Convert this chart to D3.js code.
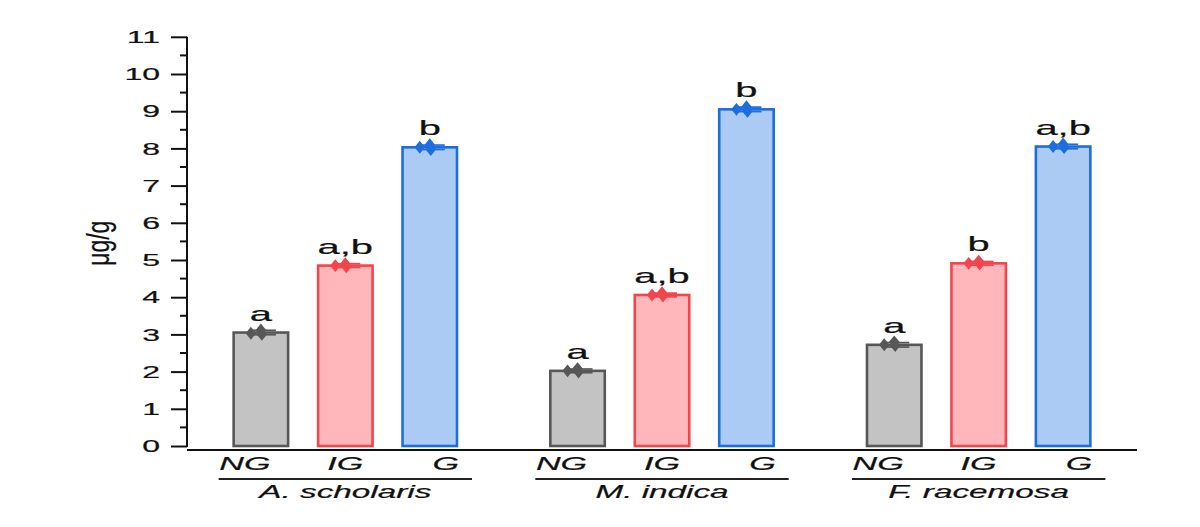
<!DOCTYPE html>
<html>
<head>
<meta charset="utf-8">
<script src="https://cdn.jsdelivr.net/npm/d3@7"></script>
<style>
  html, body { margin: 0; padding: 0; background: #ffffff; }
  svg { display: block; font-family: "Liberation Sans", Arial, sans-serif; }
  svg text { stroke: #111; stroke-width: 0.2px; }
</style>
</head>
<body>
<svg id="chart" width="1200" height="527"></svg>
<script>
// ---- data ----
const species = ["A. scholaris", "M. indica", "F. racemosa"];
const treatments = ["NG", "IG", "G"];
const ngValues = [3.05, 2.02, 2.72];
const igValues = [4.85, 4.06, 4.91];
const gValues  = [8.03, 9.05, 8.05];
const ngErr = [0.06, 0.05, 0.06];
const igErr = [0.05, 0.05, 0.05];
const gErr  = [0.06, 0.06, 0.06];
const ngReplicates = [[3.03, 3.12, 3.00], [2.02, 2.08, 1.99], [2.72, 2.80, 2.70]];
const igReplicates = [[4.85, 4.90, 4.82], [4.06, 4.12, 4.03], [4.91, 4.97, 4.89]];
const gReplicates  = [[8.03, 8.10, 7.97], [9.05, 9.12, 9.00], [8.05, 8.12, 8.02]];
const ngLetters = ["a", "a", "a"];
const igLetters = ["a,b", "a,b", "b"];
const gLetters  = ["b", "b", "a,b"];
const yTicks = d3.range(0, 12);
const yMinorTicks = d3.range(0.5, 11, 1);
const yLabel = "μg/g";

// ---- styles ----
const fills   = { NG: "#c3c3c3", IG: "#ffb7bb", G: "#abcbf4" };
const strokes = { NG: "#575757", IG: "#f2454c", G: "#1c6ee0" };
const STRETCH = 1.9;      // text horizontal stretch seen in the reference
const GROUP_STEP = 3.75;  // bar slots per group (3 bars + gap)

const valuesBy = { NG: ngValues, IG: igValues, G: gValues };
const errBy = { NG: ngErr, IG: igErr, G: gErr };
const repBy = { NG: ngReplicates, IG: igReplicates, G: gReplicates };
const letterBy = { NG: ngLetters, IG: igLetters, G: gLetters };

const data = [];
species.forEach((sp, gi) => {
  treatments.forEach((t, ti) => {
    data.push({
      species: sp, treatment: t, gi, ti,
      pos: gi * GROUP_STEP + ti,
      value: valuesBy[t][gi], err: errBy[t][gi],
      reps: repBy[t][gi], letter: letterBy[t][gi]
    });
  });
});

const svg = d3.select("#chart");
const x = d3.scaleLinear().domain([-0.875, 10.375]).range([187, 1137]);
const y = d3.scaleLinear().domain([0, 11]).range([446, 36.8]);

// ---- bars ----
const barW = (x(0.645) - x(0));
svg.append("g").selectAll("rect").data(data).join("rect")
  .attr("x", d => x(d.pos) - barW / 2)
  .attr("y", d => y(d.value))
  .attr("width", barW)
  .attr("height", d => y(0) - y(d.value))
  .attr("fill", d => fills[d.treatment])
  .attr("stroke", d => strokes[d.treatment])
  .attr("stroke-width", 2.6);

// ---- error bars ----
const eb = svg.append("g").selectAll("g").data(data).join("g")
  .attr("stroke", d => strokes[d.treatment])
  .attr("stroke-width", 1.7);
eb.append("line")
  .attr("x1", d => x(d.pos)).attr("x2", d => x(d.pos))
  .attr("y1", d => y(d.value - d.err)).attr("y2", d => y(d.value + d.err));
eb.append("line")
  .attr("x1", d => x(d.pos) - 12).attr("x2", d => x(d.pos) + 15)
  .attr("y1", d => y(d.value + d.err)).attr("y2", d => y(d.value + d.err));
eb.append("line")
  .attr("x1", d => x(d.pos) - 12).attr("x2", d => x(d.pos) + 15)
  .attr("y1", d => y(d.value - d.err)).attr("y2", d => y(d.value - d.err));

// replicate points (diamonds)
const jitter = [-10, 0, 1];
const diamond = d3.symbol().type(d3.symbolDiamond).size(48);
svg.append("g").selectAll("g").data(data).join("g")
  .each(function(d) {
    d3.select(this).selectAll("path").data(d.reps).join("path")
      .attr("d", diamond)
      .attr("transform", (v, i) => `translate(${x(d.pos) + jitter[i]},${y(v)}) scale(1.4,1)`)
      .attr("fill", strokes[d.treatment]);
  });

// significance letters
svg.append("g").selectAll("text").data(data).join("text")
  .attr("transform", d => `translate(${x(d.pos)},${y(d.value) - 12}) scale(${STRETCH},1)`)
  .attr("text-anchor", "middle")
  .attr("font-size", 21)
  .attr("fill", "#111")
  .text(d => d.letter);

// ---- y axis ----
const yAxis = d3.axisLeft(y).tickValues(yTicks).tickSize(16).tickFormat(d3.format("d"));
const yg = svg.append("g").attr("transform", `translate(${x.range()[0]},0)`).call(yAxis);
yg.select(".domain").attr("stroke", "#111").attr("stroke-width", 2)
  .attr("d", `M0,${y(11)}V${y(0) + 1}`);
yg.selectAll(".tick line").attr("stroke", "#111").attr("stroke-width", 2);
yg.selectAll(".tick text")
  .attr("x", 0).attr("dy", "0.36em")
  .attr("transform", `translate(-27,0) scale(${STRETCH + 0.1},1)`)
  .attr("font-size", 16).attr("fill", "#111");
svg.append("g").selectAll("line").data(yMinorTicks).join("line")
  .attr("x1", x.range()[0] - 7).attr("x2", x.range()[0])
  .attr("y1", d => y(d)).attr("y2", d => y(d))
  .attr("stroke", "#111").attr("stroke-width", 2);

// y label
svg.append("text")
  .attr("transform", `translate(${x.range()[0] - 86},${y(5.45)}) scale(1.35,1) rotate(-90)`)
  .attr("text-anchor", "middle")
  .attr("dy", "0.25em")
  .attr("font-size", 23)
  .attr("fill", "#111")
  .text(yLabel);

// ---- x axis ----
svg.append("line")
  .attr("x1", x.range()[0]).attr("x2", x.range()[1])
  .attr("y1", y(0) + 4).attr("y2", y(0) + 4)
  .attr("stroke", "#111").attr("stroke-width", 2);

const labelShift = { NG: -16, IG: 0, G: 16 };
svg.append("g").selectAll("text").data(data).join("text")
  .attr("transform", d => `translate(${x(d.pos) + labelShift[d.treatment]},470) scale(${STRETCH},1)`)
  .attr("text-anchor", "middle")
  .attr("font-size", 18)
  .attr("font-style", "italic")
  .attr("fill", "#111")
  .text(d => d.treatment);

const groups = svg.append("g").selectAll("g").data(species).join("g");
groups.append("line")
  .attr("x1", (s, i) => x(i * GROUP_STEP - 0.5))
  .attr("x2", (s, i) => x(i * GROUP_STEP + 2.5))
  .attr("y1", 479).attr("y2", 479)
  .attr("stroke", "#222").attr("stroke-width", 1.8);
groups.append("text")
  .attr("transform", (s, i) => `translate(${x(i * GROUP_STEP + 1)},498) scale(1.85,1)`)
  .attr("text-anchor", "middle")
  .attr("font-size", 18)
  .attr("font-style", "italic")
  .attr("fill", "#111")
  .text(s => s);
</script>
</body>
</html>
